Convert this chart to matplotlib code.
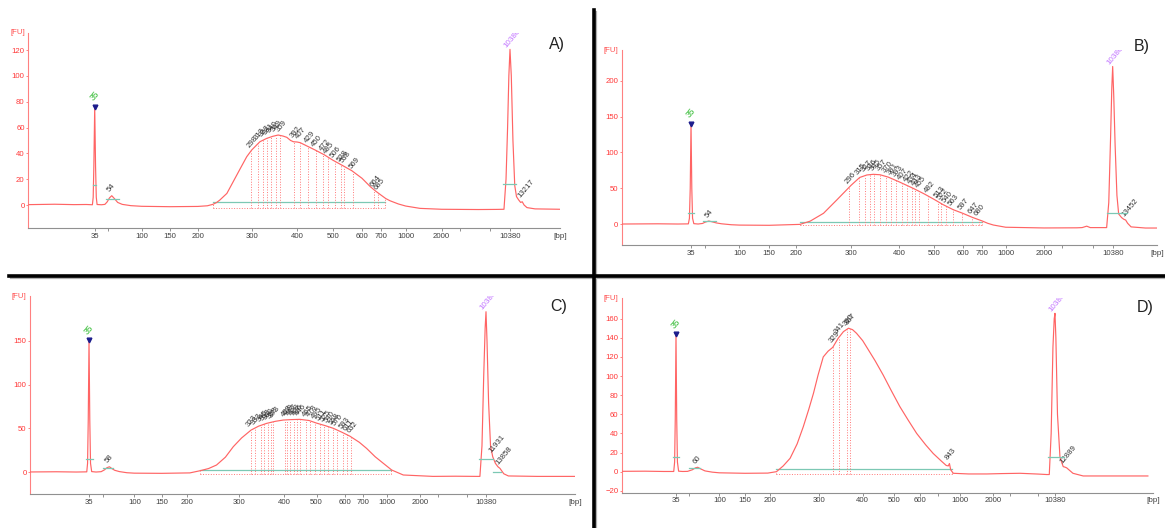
import numpy as np
import matplotlib
matplotlib.use('Agg')
import matplotlib.pyplot as plt
from matplotlib.lines import Line2D

plt.rcParams['font.family'] = ['Liberation Sans', 'DejaVu Sans']

# ladder used for the bp axis (Bioanalyzer High Sensitivity DNA)
LADDER_BP = [35, 50, 100, 150, 200, 300, 400, 500, 600, 700, 1000, 2000, 3000, 7000, 10380]

# where each ladder band sits along the x axis of every run (fraction of axis width)
POS_A = [0.1254, 0.1504, 0.2137, 0.2669, 0.3190, 0.4205, 0.5056, 0.5727, 0.6278, 0.6635, 0.7100, 0.7776, 0.8120, 0.8684, 0.9060]
POS_B = [0.1295, 0.1556, 0.2197, 0.2752, 0.3256, 0.4284, 0.5180, 0.5834, 0.6370, 0.6737, 0.7174, 0.7889, 0.8225, 0.8804, 0.9172]
POS_C = [0.1083, 0.1334, 0.1914, 0.2417, 0.2875, 0.3835, 0.4661, 0.5257, 0.5772, 0.6106, 0.6550, 0.7156, 0.7486, 0.8018, 0.8367]
POS_D = [0.1022, 0.1267, 0.1837, 0.2321, 0.2791, 0.3719, 0.4536, 0.5125, 0.5615, 0.5953, 0.6367, 0.6989, 0.7309, 0.7836, 0.8155]

XLAB_A = ['35', '', '100', '150', '200', '300', '400', '500', '600', '700', '1000', '2000', '', '', '10380']
XLAB_B = XLAB_A
XLAB_C = XLAB_A
XLAB_D = ['35', '', '100', '150', '200', '300', '400', '500', '600', '', '1000', '2000', '', '', '10380']

# traces (bp, FU)
A_BP = [6, 12, 20, 28, 32.9, 33.6, 34.2, 35, 35.8, 36.5, 37.3, 42, 46, 49, 51.5, 54, 57, 61, 67, 80, 100, 150, 200,
        215, 224, 230, 236, 249, 261, 275, 289, 300, 316, 330, 343, 355, 366, 375, 384, 391, 400, 408, 425, 448, 475,
        500, 530, 563, 600, 642, 670, 700, 750, 797, 900, 1000, 1317, 2000, 3000, 5000, 8000, 9220, 9600, 9900,
        10150, 10380, 10650, 11000, 11400, 11800, 12300, 12800, 13217, 13700, 14500, 17000, 28000]
A_FU = [0.3, 0.6, 0.3, 0.4, 0.2, 6, 30, 76, 30, 6, 0.4, 0.2, 0.5, 2.5, 5.5, 7.2, 5, 2, 0.5, -0.5, -1, -1.3, -1.1,
        -0.6, 0.5, 1.8, 3.8, 9, 18, 28, 37.4, 42.6, 49, 51.6, 53.2, 54.2, 53.4, 52.4, 50, 49, 48.8, 48.3, 45.8, 42.6,
        38.8, 34.8, 30.8, 26.6, 20.7, 14.2, 10.8, 7.7, 5, 3.3, 0.8, -0.8, -2.6, -3.3, -3.4, -3.5, -3.4, -3.3, 20, 60,
        100, 120.5, 100, 50, 15, 6.5, 4, 2, 2.5, 0, -2, -3, -3.3]

B_BP = [6, 15, 25, 32.7, 33.6, 34.3, 35, 35.7, 36.4, 37.6, 42, 47, 50, 54, 58, 63, 70, 85, 100, 150, 206, 222, 245,
        270, 300, 316, 330, 343, 357, 375, 400, 438, 470, 500, 530, 565, 600, 647, 700, 760, 828, 1000, 2000, 4500,
        5200, 5900, 6500, 9200, 9600, 9950, 10200, 10380, 10600, 10900, 11300, 11700, 12400, 13000, 13452, 14000,
        15000, 20000, 26000]
B_FU = [0, 0.3, 0, 0.2, 8, 50, 140, 50, 8, 0.5, 0, 0.8, 2.5, 4.2, 3, 1.5, 0.3, -1, -1.5, -1.8, -0.5, 4, 15, 33.5,
        54, 65, 68.5, 69.4, 68.8, 65.5, 59, 49.8, 42, 34.5, 27, 20, 15, 9.3, 4.2, 1, -1.4, -4.5, -5.5, -5.3, -5, -3,
        -5, -5, 30, 120, 190, 220, 180, 110, 40, 14, 9, 6.5, 5.6, 1, -4, -5.6, -5.6]

C_BP = [6, 15, 25, 33, 33.7, 34.3, 35, 35.7, 36.4, 37.5, 42, 48, 52, 55, 58, 61, 65, 72, 85, 100, 150, 205, 222, 237,
        252, 270, 287, 305, 324, 340, 358, 378, 398, 420, 446, 475, 500, 530, 558, 590, 628, 680, 741, 840, 947, 1104,
        1408, 2680, 5000, 8500, 9150, 9550, 9900, 10200, 10380, 10600, 10950, 11400, 11931, 12600, 13300, 13858, 15000,
        16500, 30000, 66000]
C_FU = [0, 0.3, 0, 0.2, 10, 60, 151, 60, 10, 0.5, 0, 0.4, 2.5, 5, 6, 4, 2, 0.5, -0.8, -1.3, -1.5, -1, 1.5, 4, 8, 17,
        29, 39, 48, 52.5, 55.7, 58, 59.5, 60, 60.3, 59, 56, 53, 50, 45.5, 41, 34, 27, 17.5, 10, 2.3, -3.4, -5, -4.8,
        -5, -5, 30, 110, 165, 183.5, 150, 80, 30, 17.5, 10, 6, 4.2, -2, -4.5, -5, -5]

D_BP = [6, 15, 25, 32.9, 33.7, 34.3, 35, 35.7, 36.4, 37.6, 42, 48, 54, 58, 61, 65, 72, 85, 100, 150, 195, 211, 223,
        236, 250, 263, 275, 286, 297, 308, 318, 328, 340, 352, 364, 374, 384, 400, 412, 437, 463, 490, 521, 552, 586,
        630, 672, 740, 800, 827, 843, 860, 897, 1200, 1752, 2500, 4060, 7000, 8566, 9094, 9500, 9900, 10200, 10380,
        10600, 11000, 11660, 12580, 12889, 13620, 15760, 20000, 90000]
D_FU = [0.3, 0.5, 0.2, 0.2, 10, 55, 144, 55, 10, 0.5, 0.2, 0.3, 2, 4, 4.6, 3, 0.8, -0.5, -1.2, -1.7, -1.5, 0, 6, 14,
        29, 47, 65, 82, 101, 120, 126, 130, 139.5, 146.4, 150, 148.5, 144.7, 137, 130, 116, 101, 85, 68, 54, 40, 28,
        19, 11, 6.5, 6, 8.5, 2, -1.7, -2.4, -2.4, -2, -1.7, -2.5, -3, -3, 40, 130, 160, 165.6, 140, 60, 15, 5.2, 5, 4,
        -1.7, -4.5, -4.5]

# called peaks inside the smear, and the smaller called peaks
A_PEAKS = [298, 313, 322, 331, 340, 349, 359, 392, 407, 429, 450, 472, 485, 506, 528, 538, 569, 664, 685]
B_PEAKS = [296, 315, 327, 336, 345, 357, 370, 381, 393, 407, 422, 434, 443, 455, 482, 513, 522, 540, 563, 597, 647, 680]
C_PEAKS = [323, 333, 345, 353, 360, 368, 373, 403, 409, 417, 428, 436, 446, 465, 478, 495, 511, 525, 540, 558, 570,
           593, 611, 632]
D_PEAKS = [329, 341, 360, 367]
A_MINOR = [54, 13217]
B_MINOR = [54, 13452]
C_MINOR = [58, 11931, 13858]
D_MINOR = [60, 843, 12889]

# smear region (bp) and the short baseline segments (bp start, bp end, FU)
A_SMEAR = (224, 740)
B_SMEAR = (206, 700)
C_SMEAR = (222, 1080)
D_SMEAR = (211, 880)
A_TEAL = [(33.7, 36.2, 15.5), (48, 63, 4.5), (9010, 11700, 16)]
B_TEAL = [(32.2, 38.1, 15), (48, 62, 4.6), (9200, 13700, 15)]
C_TEAL = [(32.4, 38.5, 14.5), (50.7, 62.3, 4.2), (9030, 11930, 14.9), (11930, 14200, 0.4)]
D_TEAL = [(32, 38.3, 15), (50.3, 64.3, 4.2), (8760, 12880, 15.7)]

TRACE = '#ff6464'
TEAL = '#7cc8b4'
DOT = '#ff7878'
LABEL = '#333333'


def ladder_scale(pos):
    lb = np.log(LADDER_BP)
    p = np.array(pos)
    k0 = (p[1] - p[0]) / (lb[1] - lb[0])
    k1 = (p[-1] - p[-2]) / (lb[-1] - lb[-2])

    def fwd(x):
        t = np.log(np.maximum(np.asarray(x, float), 1e-6))
        u = np.interp(t, lb, p)
        u = np.where(t < lb[0], p[0] + (t - lb[0]) * k0, u)
        return np.where(t > lb[-1], p[-1] + (t - lb[-1]) * k1, u)

    def inv(u):
        u = np.asarray(u, float)
        t = np.interp(u, p, lb)
        t = np.where(u < p[0], lb[0] + (u - p[0]) / k0, t)
        t = np.where(u > p[-1], lb[-1] + (u - p[-1]) / k1, t)
        return np.exp(t)

    return fwd, inv


def draw_panel(ax, pos, xlab, bp, fu, ylim, yticks, peaks, minor, smear, teal):
    fwd, inv = ladder_scale(pos)
    ax.set_xscale('function', functions=(fwd, inv))
    ax.set_xlim(float(inv(0.0)), float(inv(1.0)))
    ax.set_ylim(*ylim)
    ax.set_xticks(LADDER_BP, xlab)
    ax.minorticks_off()
    ax.set_yticks(yticks)

    ax.plot(bp, fu, color=TRACE, lw=0.85, zorder=3)

    # smear region: baseline, lower dotted edge, dotted drop lines at each called peak
    ax.plot(smear, [2.5, 2.5], color=TEAL, lw=0.9, zorder=2)
    ax.plot(smear, [-2, -2], color=DOT, lw=0.7, ls=':', zorder=2)
    h = np.interp(peaks, bp, fu)
    ax.vlines(peaks, -2, h, colors=DOT, linestyles=':', lw=0.7, zorder=2)
    ax.vlines(smear, -2, np.interp(smear, bp, fu), colors=DOT, linestyles=':', lw=0.7, zorder=2)
    for p, v in zip(peaks, h):
        ax.annotate(str(p), (p, v), xytext=(0, 1.5), textcoords='offset points', rotation=50,
                    rotation_mode='anchor', ha='left', va='bottom', fontsize=5.6, color=LABEL)

    for x0, x1, lev in teal:
        ax.plot([x0, x1], [lev, lev], color=TEAL, lw=0.9, zorder=4)

    for p in minor:
        v = np.interp(p, bp, fu)
        ax.annotate(str(p), (p, v), xytext=(0, 1.5), textcoords='offset points', rotation=50,
                    rotation_mode='anchor', ha='left', va='bottom', fontsize=5.6, color=LABEL)

    # lower marker and upper marker of the ladder
    lo = np.interp(35, bp, fu)
    ax.plot([35], [lo], marker='v', ms=3.4, color='#1c1c8c', zorder=5)
    ax.annotate('35', (35, lo), xytext=(0, 3), textcoords='offset points', rotation=50,
                ha='center', va='bottom', fontsize=6.2, color='#33bb33')
    hi = np.interp(10380, bp, fu)
    ax.annotate('10380', (10380, hi), xytext=(-1.5, 0), textcoords='offset points', rotation=50,
                rotation_mode='anchor', ha='left', va='bottom', fontsize=5.8, color='#c070ff',
                annotation_clip=False, clip_on=True)

    for s in ('top', 'right'):
        ax.spines[s].set_visible(False)
    ax.spines['left'].set_color('#ff8080')
    ax.spines['bottom'].set_color('#909090')
    ax.spines['left'].set_linewidth(0.8)
    ax.spines['bottom'].set_linewidth(0.8)
    ax.tick_params(axis='x', length=2.2, width=0.6, color='#808080', labelsize=5.6, labelcolor='#404040', pad=1.2)
    ax.tick_params(axis='y', length=1.6, width=0.6, color='#ff7070', labelsize=5.6, labelcolor='#ff3838', pad=0.8)
    ax.text(-0.006, 1.0, '[FU]', transform=ax.transAxes, ha='right', va='center', fontsize=5.6, color='#ff5050')
    ax.annotate('[bp]', (1.0, 0.0), xycoords='axes fraction', xytext=(0, -3.3), textcoords='offset points',
                ha='center', va='top', fontsize=5.8, color='#404040')


W, H = 1165, 528
fig = plt.figure(figsize=(W / 100, H / 100), dpi=100)


def rect(x0, x1, y0, y1):
    return [x0 / W, 1 - y1 / H, (x1 - x0) / W, (y1 - y0) / H]


axA = fig.add_axes(rect(28, 560, 33, 228))
axB = fig.add_axes(rect(621.7, 1157, 50, 245))
axC = fig.add_axes(rect(30, 575, 296, 494.3))
axD = fig.add_axes(rect(621.7, 1153, 298.3, 492.7))

draw_panel(axA, POS_A, XLAB_A, A_BP, A_FU, (-17.8, 133.2), range(0, 121, 20), A_PEAKS, A_MINOR, A_SMEAR, A_TEAL)
draw_panel(axB, POS_B, XLAB_B, B_BP, B_FU, (-29.3, 243), range(0, 201, 50), B_PEAKS, B_MINOR, B_SMEAR, B_TEAL)
draw_panel(axC, POS_C, XLAB_C, C_BP, C_FU, (-25.5, 201.5), range(0, 151, 50), C_PEAKS, C_MINOR, C_SMEAR, C_TEAL)
draw_panel(axD, POS_D, XLAB_D, D_BP, D_FU, (-22, 181.3), range(-20, 161, 20), D_PEAKS, D_MINOR, D_SMEAR, D_TEAL)

# panel letters
for txt, x, y in [('A)', 557, 45), ('B)', 1142, 46.5), ('C)', 559, 306), ('D)', 1145.5, 307.5)]:
    fig.text(x / W, 1 - y / H, txt, ha='center', va='center', fontsize=11.5, color='#222222')

# dividing bars with a soft shadow
fig.add_artist(Line2D([595.5 / W, 595.5 / W], [1 - 12 / H, 0], transform=fig.transFigure, color='#b0b0b0', lw=1.6))
fig.add_artist(Line2D([11 / W, 1], [1 - 277.5 / H, 1 - 277.5 / H], transform=fig.transFigure, color='#b0b0b0', lw=1.6))
fig.add_artist(Line2D([593.5 / W, 593.5 / W], [1 - 10 / H, 0], transform=fig.transFigure, color='black', lw=2.6))
fig.add_artist(Line2D([9 / W, 1], [1 - 275.5 / H, 1 - 275.5 / H], transform=fig.transFigure, color='black', lw=2.6))

fig.savefig('out.png', dpi=100)
